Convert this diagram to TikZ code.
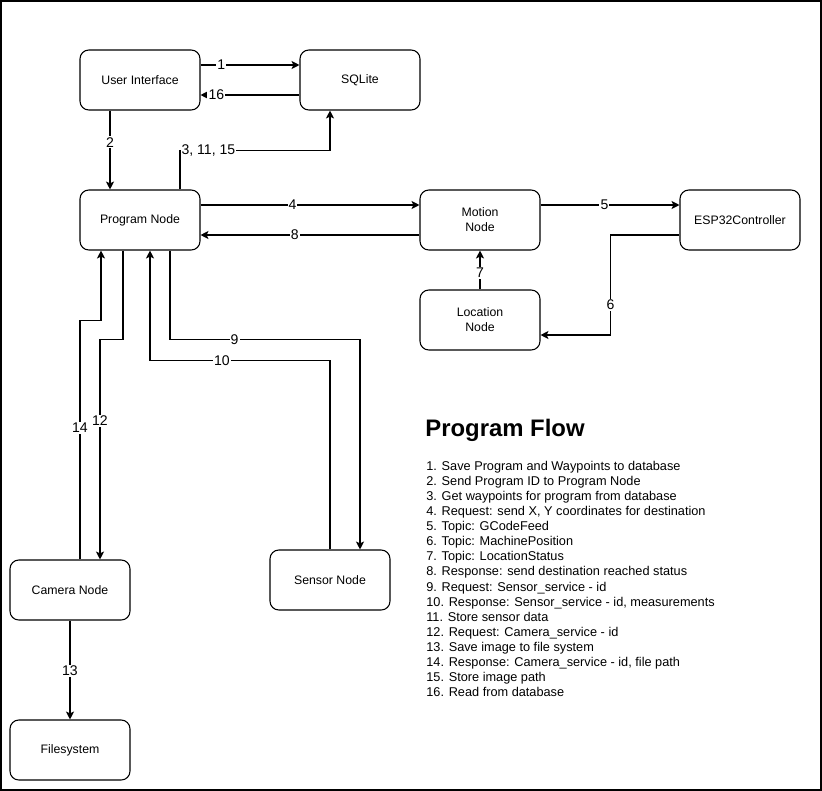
\documentclass[tikz,border=0pt]{standalone}
\usepackage{fontspec}
\setmainfont{Liberation Sans}
\usetikzlibrary{arrows.meta,calc}

\begin{document}
\begin{tikzpicture}[
        x=0.02cm, y=-0.02cm,
        box/.style={draw,rounded corners=5pt,line width=0.6pt,minimum width=2.4cm,minimum height=1.2cm,align=center,font=\fontsize{7}{8.5}\selectfont},
        edge/.style={line width=0.6pt,-{Stealth[length=4.5pt,width=4.5pt,inset=1pt]}},
        lbl/.style={fill=white,inner sep=0.6pt,font=\fontsize{8}{9}\selectfont}
        ]
        \useasboundingbox (0,0) rectangle (822,791);
        \draw[line width=1.1pt] (1,1) rectangle (821,790);

        \node[box] (ui) at (140,80) {User Interface};
        \node[box] (sql) at (360,80) {SQLite};
        \node[box] (prog) at (140,220) {Program Node};
        \node[box] (mot) at (480,220) {Motion\\Node};
        \node[box] (esp) at (740,220) {ESP32Controller};
        \node[box] (loc) at (480,320) {Location\\Node};
        \node[box] (cam) at (70,590) {Camera Node};
        \node[box] (sen) at (330,580) {Sensor Node};
        \node[box] (fs) at (70,750) {Filesystem};

        \draw[edge] ($(ui.east)+(0,-15)$) -- node[lbl,pos=0.21]{1} ($(sql.west)+(0,-15)$);
        \draw[edge] ($(sql.west)+(0,15)$) -- node[lbl,pos=0.84]{16} ($(ui.east)+(0,15)$);
        \draw[edge] ($(ui.south)+(-30,0)$) -- node[lbl,pos=0.4]{2} ($(prog.north)+(-30,0)$);
        \draw[edge] ($(prog.north)+(40,0)$) |- node[lbl,anchor=west,pos=0.5]{3, 11, 15} ($(sql.south)+(-30,40)$) -- ($(sql.south)+(-30,0)$);

        \draw[edge] ($(prog.east)+(0,-15)$) -- node[lbl,pos=0.42]{4} ($(mot.west)+(0,-15)$);
        \draw[edge] ($(mot.west)+(0,15)$) -- node[lbl,pos=0.57]{8} ($(prog.east)+(0,15)$);
        \draw[edge] ($(mot.east)+(0,-15)$) -- node[lbl,pos=0.46]{5} ($(esp.west)+(0,-15)$);
        \draw[edge] ($(esp.west)+(0,15)$) -| node[lbl,pos=0.85]{6} ($(loc.east)+(70,15)$) -- ($(loc.east)+(0,15)$);
        \draw[edge] (loc.north) -- node[lbl,pos=0.42]{7} (mot.south);

        \draw[edge] ($(prog.south)+(30,0)$) |- node[lbl,pos=0.67]{9} ($(sen.north)+(30,-210)$) -- ($(sen.north)+(30,0)$);
        \draw[edge] (sen.north) |- node[lbl,pos=0.8]{10} ($(prog.south)+(10,110)$) -- ($(prog.south)+(10,0)$);
        \draw[edge] ($(prog.south)+(-17,0)$) |- ($(cam.north)+(30,-220)$) -- node[lbl,pos=0.37]{12} ($(cam.north)+(30,0)$);
        \draw[edge] ($(cam.north)+(10,0)$) |- node[lbl,pos=0.275]{14} ($(prog.south)+(-39,70)$) -- ($(prog.south)+(-39,0)$);
        \draw[edge] (cam.south) -- node[lbl,pos=0.51]{13} (fs.north);

        \node[anchor=west,inner sep=0pt,font=\fontsize{13.6}{16}\selectfont\bfseries] (title) at (425,430) {Program Flow};
        \node[anchor=north west,align=left,inner sep=0pt,font=\fontsize{7.25}{8.57}\selectfont] (flow) at (426,461) {1. Save Program and Waypoints to database\\
            2. Send Program ID to Program Node\\
            3. Get waypoints for program from database\\
            4. Request: send X, Y coordinates for destination\\
            5. Topic: GCodeFeed\\
            6. Topic: MachinePosition\\
            7. Topic: LocationStatus\\
            8. Response: send destination reached status\\
            9. Request: Sensor\_service - id\\
            10. Response: Sensor\_service - id, measurements\\
            11. Store sensor data\\
            12. Request: Camera\_service - id\\
            13. Save image to file system\\
            14. Response: Camera\_service - id, file path\\
            15. Store image path\\
            16. Read from database};
    \end{tikzpicture}
\end{document}
